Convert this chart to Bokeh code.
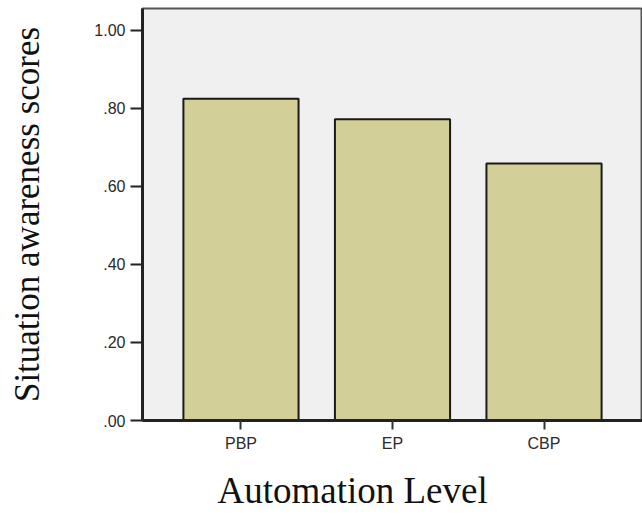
from bokeh.plotting import figure
from bokeh.models import FactorRange, Range1d, FixedTicker, Title
from bokeh.embed import file_html
from bokeh.resources import INLINE

categories = ["PBP", "EP", "CBP"]
scores = [0.825, 0.772, 0.659]
y_ticks = [0.0, 0.2, 0.4, 0.6, 0.8, 1.0]
y_tick_labels = [".00", ".20", ".40", ".60", ".80", "1.00"]
x_title_text = "Automation Level"
y_title_text = "Situation awareness scores"

p = figure(
    x_range=FactorRange(*categories, range_padding=0.1),
    y_range=Range1d(0, 1.056),
    width=642, height=527,
    output_backend="svg", toolbar_location=None,
    min_border_left=142, min_border_top=8, min_border_right=0, min_border_bottom=107,
)

p.vbar(x=categories, top=scores, width=0.76, fill_color="#d3cf98",
       line_color="#1a1a1a", line_width=2)

p.background_fill_color = "#f0f0f0"
p.border_fill_color = "white"
p.outline_line_color = "#555555"
p.outline_line_width = 2
p.xgrid.grid_line_color = None
p.ygrid.grid_line_color = None

# y axis
p.yaxis.ticker = FixedTicker(ticks=y_ticks)
p.yaxis.major_label_overrides = {t: l for t, l in zip(y_ticks, y_tick_labels)}
p.yaxis.axis_label = y_title_text
p.yaxis.axis_label_text_font = "Liberation Serif"
p.yaxis.axis_label_text_font_style = "normal"
p.yaxis.axis_label_text_font_size = "35px"
p.yaxis.axis_label_text_color = "#111111"
p.yaxis.axis_label_standoff = 44
p.yaxis.major_label_text_font = "Liberation Sans"
p.yaxis.major_label_text_font_size = "16px"
p.yaxis.major_label_text_color = "#2a2a2a"
p.yaxis.major_label_standoff = 5
p.yaxis.minor_tick_line_color = None
p.yaxis.major_tick_in = 0
p.yaxis.major_tick_out = 12
p.yaxis.major_tick_line_width = 2
p.yaxis.major_tick_line_color = "#222222"
p.yaxis.axis_line_width = 3
p.yaxis.axis_line_color = "#222222"

# x axis
p.xaxis.major_label_text_font = "Liberation Sans"
p.xaxis.major_label_text_font_size = "16px"
p.xaxis.major_label_text_color = "#2a2a2a"
p.xaxis.major_label_standoff = 5
p.xaxis.major_tick_in = 0
p.xaxis.major_tick_out = 9
p.xaxis.major_tick_line_width = 2
p.xaxis.major_tick_line_color = "#333333"
p.xaxis.axis_line_width = 3
p.xaxis.axis_line_color = "#222222"

x_title = Title(text=x_title_text, align="left", offset=75, standoff=27,
                text_font="Liberation Serif", text_font_style="normal",
                text_font_size="37px", text_color="#111111")
p.add_layout(x_title, "below")

open("out.html", "w").write(file_html(p, INLINE))
